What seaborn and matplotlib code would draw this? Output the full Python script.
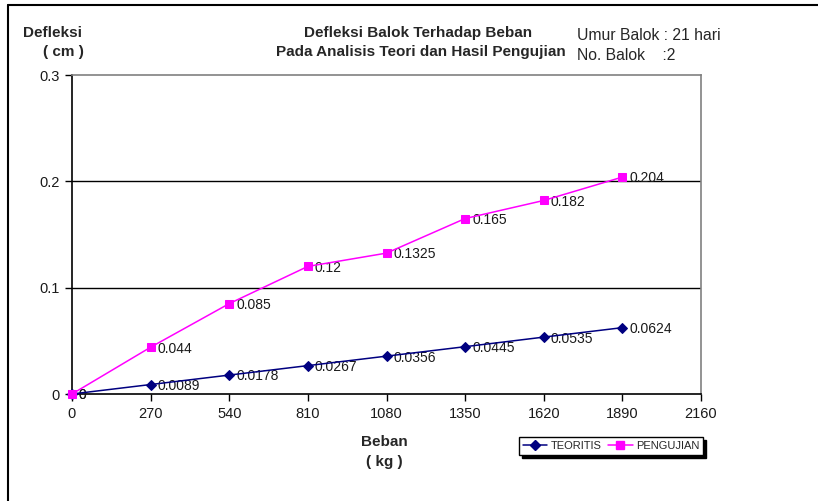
import matplotlib
matplotlib.use("Agg")
import matplotlib.pyplot as plt
import seaborn as sns
import pandas as pd
from matplotlib.lines import Line2D

beban = [0, 270, 540, 810, 1080, 1350, 1620, 1890]
teoritis = [0, 0.0089, 0.0178, 0.0267, 0.0356, 0.0445, 0.0535, 0.0624]
pengujian = [0, 0.044, 0.085, 0.12, 0.1325, 0.165, 0.182, 0.204]
teoritis_labels = ["0", "0.0089", "0.0178", "0.0267", "0.0356", "0.0445", "0.0535", "0.0624"]
pengujian_labels = ["0", "0.044", "0.085", "0.12", "0.1325", "0.165", "0.182", "0.204"]
x_ticks = [0, 270, 540, 810, 1080, 1350, 1620, 1890, 2160]
y_ticks = [0, 0.1, 0.2, 0.3]
y_tick_labels = ["0", "0.1", "0.2", "0.3"]

sns.set_theme(style="white")
plt.rcParams['font.family'] = ['Liberation Sans', 'DejaVu Sans']

fig = plt.figure(figsize=(8.18, 5.01), dpi=100)
ax = fig.add_axes([72/818, 1-394/501, (701-72)/818, (394-75)/501])

df_t = pd.DataFrame({"Beban": beban, "Defleksi": teoritis})
df_p = pd.DataFrame({"Beban": beban, "Defleksi": pengujian})

sns.lineplot(data=df_t, x="Beban", y="Defleksi", ax=ax, color="#000080", marker="D",
             markersize=5, markeredgecolor="#000080", linewidth=1.1, zorder=4, clip_on=False)
sns.lineplot(data=df_p, x="Beban", y="Defleksi", ax=ax, color="#FF00FF", marker="s",
             markersize=6, markeredgecolor="#FF00FF", linewidth=1.1, zorder=5, clip_on=False)

for x, y, s in zip(beban, teoritis, teoritis_labels):
    ax.annotate(s, (x, y), xytext=(5, -1), textcoords="offset points", va="center",
                ha="left", fontsize=10, color="#1a1a1a")
for x, y, s in zip(beban, pengujian, pengujian_labels):
    ax.annotate(s, (x, y), xytext=(5, -1), textcoords="offset points", va="center",
                ha="left", fontsize=10, color="#1a1a1a")

ax.set_xlim(0, 2160)
ax.set_ylim(0, 0.3)
ax.set_xticks(x_ticks)
ax.set_xticklabels([str(v) for v in x_ticks], fontsize=10.5)
ax.set_yticks(y_ticks)
ax.set_yticklabels(y_tick_labels, fontsize=10.5)
ax.set_xlabel("")
ax.set_ylabel("")
ax.tick_params(axis="both", which="both", direction="out", length=5, width=1,
               color="black", bottom=True, left=True, pad=4, labelcolor="#1a1a1a")
for yv in [0.1, 0.2]:
    ax.axhline(yv, color="black", linewidth=1, zorder=1)
ax.spines["left"].set_color("black")
ax.spines["bottom"].set_color("black")
ax.spines["top"].set_color("#808080")
ax.spines["right"].set_color("#808080")
for sp in ax.spines.values():
    sp.set_linewidth(1.2)
ax.grid(False)

# texts
fig.text(53/818, 1-33/501, "Defleksi", ha="center", va="center", fontsize=11, fontweight="bold")
fig.text(63/818, 1-52/501, "( cm )", ha="center", va="center", fontsize=11, fontweight="bold")
fig.text(418/818, 1-33/501, "Defleksi Balok Terhadap Beban", ha="center", va="center",
         fontsize=11, fontweight="bold")
fig.text(421/818, 1-52/501, "Pada Analisis Teori dan Hasil Pengujian", ha="center", va="center",
         fontsize=11, fontweight="bold")
fig.text(577/818, 1-35/501, "Umur Balok : 21 hari", ha="left", va="center", fontsize=11.3)
fig.text(577/818, 1-55/501, "No. Balok    :2", ha="left", va="center", fontsize=11.3)
fig.text(384/818, 1-442/501, "Beban", ha="center", va="center", fontsize=11, fontweight="bold")
fig.text(384/818, 1-462/501, "( kg )", ha="center", va="center", fontsize=11, fontweight="bold")

handles = [Line2D([], [], color="#000080", marker="D", markersize=5, linewidth=1.1),
           Line2D([], [], color="#FF00FF", marker="s", markersize=6, linewidth=1.1)]
leg = fig.legend(handles, ["TEORITIS", "PENGUJIAN"], loc="center",
                 bbox_to_anchor=(611/818, 1-446/501), ncol=2, fontsize=8, frameon=True,
                 fancybox=False, shadow={"color": "black", "alpha": 1}, edgecolor="black",
                 handlelength=2.2, handletextpad=0.3, columnspacing=0.6,
                 borderpad=0.35, borderaxespad=0)
leg.get_frame().set_linewidth(1)

# outer frame (left and top edges)
fig.add_artist(Line2D([8/818, 8/818], [0, 1-5/501], color="black", linewidth=1.5,
                      transform=fig.transFigure))
fig.add_artist(Line2D([8/818, 1], [1-5/501, 1-5/501], color="black", linewidth=1.5,
                      transform=fig.transFigure))

fig.savefig("out.png", dpi=100, facecolor="white")
